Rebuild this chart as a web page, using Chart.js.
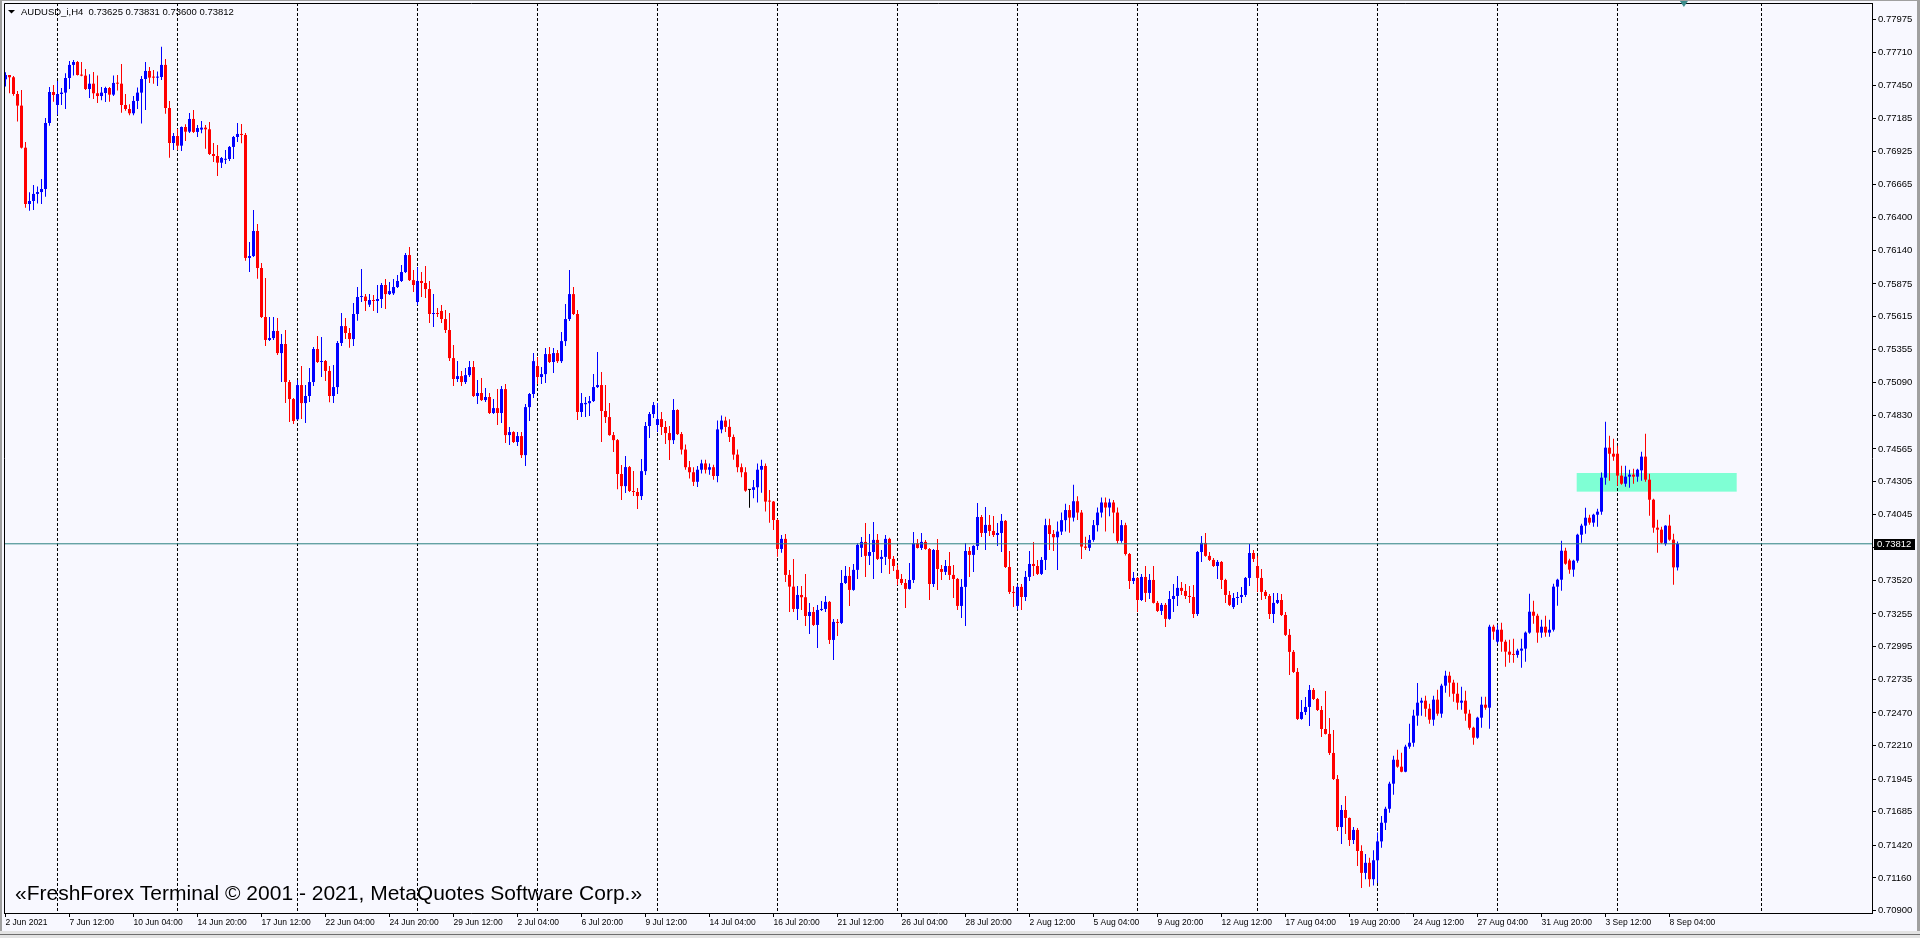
<!DOCTYPE html>
<html>
<head>
<meta charset="utf-8">
<title>AUDUSD_i,H4</title>
<style>
  html, body { margin: 0; padding: 0; background: #f8f8ff; overflow: hidden; }
  canvas { display: block; }
</style>
<script src="https://cdn.jsdelivr.net/npm/chart.js@4.4.1/dist/chart.umd.min.js"></script>
</head>
<body>
<canvas id="chart" width="1920" height="938"></canvas>
<script>
// ---- Chart data (H4 bars, oldest first) ----

const SYMBOL = "AUDUSD_i,H4";

const opens = [
  0.77499,0.77533,0.77515,0.77382,0.77290,0.76956,0.76509,0.76533,0.76589,0.76604,
  0.76628,0.77152,0.77398,0.77295,0.77382,0.77393,0.77509,0.77613,0.77636,0.77533,
  0.77528,0.77422,0.77464,0.77388,0.77366,0.77390,0.77430,0.77377,0.77470,0.77464,
  0.77295,0.77263,0.77229,0.77327,0.77393,0.77501,0.77565,0.77520,0.77512,0.77517,
  0.77613,0.77271,0.76993,0.77049,0.76972,0.77120,0.77083,0.77184,0.77081,0.77100,
  0.77115,0.77102,0.76906,0.76890,0.76837,0.76860,0.76866,0.76962,0.77041,0.77065,
  0.77057,0.76081,0.76096,0.76295,0.76001,0.75612,0.75430,0.75445,0.75501,0.75326,
  0.75398,0.75096,0.74961,0.74800,0.75072,0.74929,0.74985,0.75096,0.75358,0.75255,
  0.75263,0.75184,0.74985,0.75056,0.75406,0.75540,0.75485,0.75437,0.75636,0.75771,
  0.75774,0.75710,0.75747,0.75739,0.75755,0.75866,0.75794,0.75800,0.75850,0.75898,
  0.75969,0.76104,0.75905,0.75731,0.75898,0.75882,0.75834,0.75636,0.75644,0.75660,
  0.75596,0.75509,0.75286,0.75120,0.75143,0.75096,0.75151,0.75215,0.74985,0.75009,
  0.74953,0.74977,0.74850,0.74889,0.74850,0.75040,0.74675,0.74699,0.74620,0.74667,
  0.74516,0.74897,0.75001,0.75223,0.75136,0.75159,0.75318,0.75255,0.75326,0.75262,
  0.75421,0.75596,0.75794,0.75636,0.74858,0.74920,0.74928,0.74945,0.75056,0.75072,
  0.74866,0.74818,0.74675,0.74635,0.74366,0.74270,0.74421,0.74231,0.74223,0.74191,
  0.74389,0.74747,0.74842,0.74755,0.74802,0.74739,0.74691,0.74635,0.74874,0.74683,
  0.74560,0.74420,0.74380,0.74304,0.74400,0.74450,0.74400,0.74420,0.74350,0.74720,
  0.74790,0.74740,0.74660,0.74520,0.74420,0.74380,0.74240,0.74240,0.74261,0.74400,
  0.74430,0.74152,0.74147,0.74001,0.73771,0.73851,0.73565,0.73472,0.73295,0.73406,
  0.73388,0.73239,0.73271,0.73168,0.73287,0.73295,0.73351,0.73049,0.73192,0.73184,
  0.73501,0.73557,0.73446,0.73605,0.73780,0.73827,0.73716,0.73747,0.73843,0.73692,
  0.73708,0.73851,0.73692,0.73605,0.73533,0.73501,0.73454,0.73525,0.73816,0.73779,
  0.73827,0.73771,0.73493,0.73763,0.73612,0.73589,0.73636,0.73565,0.73533,0.73319,
  0.73470,0.73755,0.73724,0.73795,0.74025,0.73898,0.73962,0.73914,0.73882,0.73898,
  0.73994,0.73628,0.73430,0.73319,0.73470,0.73390,0.73549,0.73652,0.73636,0.73573,
  0.73684,0.73960,0.73890,0.73864,0.73909,0.74000,0.74080,0.74020,0.74150,0.74060,
  0.73790,0.73780,0.73843,0.73960,0.74060,0.74140,0.74100,0.74140,0.74060,0.73835,
  0.73960,0.73731,0.73517,0.73541,0.73366,0.73549,0.73422,0.73525,0.73343,0.73279,
  0.73327,0.73216,0.73374,0.73398,0.73462,0.73438,0.73398,0.73390,0.73255,0.73747,
  0.73819,0.73716,0.73684,0.73636,0.73668,0.73525,0.73406,0.73310,0.73382,0.73390,
  0.73406,0.73541,0.73739,0.73636,0.73541,0.73430,0.73398,0.73255,0.73343,0.73366,
  0.73247,0.73089,0.72954,0.72795,0.72422,0.72477,0.72517,0.72652,0.72580,0.72493,
  0.72342,0.72303,0.72152,0.71945,0.71564,0.71699,0.71636,0.71461,0.71541,0.71374,
  0.71200,0.71280,0.71150,0.71300,0.71450,0.71598,0.71709,0.71908,0.72098,0.72043,
  0.72003,0.72202,0.72233,0.72448,0.72551,0.72567,0.72503,0.72416,0.72575,0.72464,
  0.72686,0.72765,0.72710,0.72622,0.72551,0.72567,0.72464,0.72352,0.72273,0.72432,
  0.72535,0.72511,0.73154,0.73035,0.73130,0.73035,0.72956,0.72935,0.72930,0.72964,
  0.72980,0.73107,0.73273,0.73241,0.73107,0.73154,0.73107,0.73130,0.73472,0.73527,
  0.73757,0.73680,0.73607,0.73678,0.73884,0.73956,0.74019,0.73980,0.74043,0.74067,
  0.74337,0.74575,0.74527,0.74527,0.74353,0.74289,0.74345,0.74361,0.74345,0.74395,
  0.74504,0.74321,0.74162,0.73940,0.73924,0.73810,0.73956,0.73845,0.73625
];

const highs = [
  0.77554,0.77533,0.77525,0.77406,0.77414,0.77001,0.76602,0.76660,0.76647,0.76708,
  0.77192,0.77438,0.77454,0.77486,0.77430,0.77546,0.77644,0.77652,0.77644,0.77636,
  0.77581,0.77538,0.77557,0.77528,0.77438,0.77440,0.77438,0.77528,0.77533,0.77620,
  0.77382,0.77300,0.77366,0.77433,0.77525,0.77636,0.77597,0.77573,0.77560,0.77758,
  0.77660,0.77327,0.77073,0.77104,0.77125,0.77142,0.77232,0.77255,0.77136,0.77168,
  0.77136,0.77160,0.76993,0.76978,0.76882,0.76938,0.76970,0.77049,0.77152,0.77144,
  0.77073,0.76208,0.76462,0.76350,0.76041,0.75922,0.75612,0.75612,0.75604,0.75477,
  0.75509,0.75112,0.74969,0.75112,0.75223,0.75072,0.75207,0.75374,0.75461,0.75453,
  0.75271,0.75223,0.75231,0.75422,0.75644,0.75604,0.75524,0.75723,0.75850,0.75993,
  0.75794,0.75794,0.75786,0.75866,0.75882,0.75913,0.75890,0.75913,0.75945,0.76025,
  0.76120,0.76167,0.75985,0.76009,0.75969,0.76017,0.75898,0.75794,0.75683,0.75707,
  0.75667,0.75644,0.75390,0.75262,0.75183,0.75207,0.75262,0.75262,0.75112,0.75128,
  0.75048,0.75009,0.74961,0.75040,0.75064,0.75080,0.74739,0.74705,0.74699,0.74699,
  0.74921,0.75009,0.75326,0.75294,0.75215,0.75366,0.75374,0.75366,0.75350,0.75493,
  0.75715,0.75985,0.75850,0.75667,0.75009,0.74977,0.74985,0.75159,0.75334,0.75175,
  0.75072,0.74929,0.74699,0.74643,0.74437,0.74508,0.74429,0.74389,0.74254,0.74485,
  0.74778,0.74858,0.74937,0.74929,0.74858,0.74786,0.74747,0.74961,0.74880,0.74700,
  0.74600,0.74470,0.74420,0.74430,0.74480,0.74480,0.74450,0.74440,0.74790,0.74830,
  0.74820,0.74800,0.74680,0.74560,0.74450,0.74420,0.74245,0.74319,0.74450,0.74480,
  0.74450,0.74240,0.74152,0.74010,0.73882,0.73890,0.73605,0.73692,0.73478,0.73478,
  0.73573,0.73343,0.73311,0.73327,0.73359,0.73398,0.73359,0.73216,0.73216,0.73605,
  0.73636,0.73628,0.73652,0.73816,0.73867,0.73978,0.73890,0.73986,0.73890,0.73763,
  0.73882,0.73860,0.73716,0.73644,0.73573,0.73533,0.73660,0.73906,0.73851,0.73898,
  0.73843,0.73779,0.73771,0.73851,0.73644,0.73684,0.73747,0.73644,0.73541,0.73533,
  0.73819,0.73787,0.73800,0.74136,0.74041,0.74105,0.74041,0.74033,0.73978,0.74049,
  0.74001,0.73755,0.73478,0.73490,0.73493,0.73597,0.73755,0.73827,0.73684,0.73708,
  0.74010,0.74010,0.73922,0.73990,0.74060,0.74130,0.74120,0.74280,0.74190,0.74080,
  0.73869,0.73882,0.74000,0.74100,0.74180,0.74180,0.74170,0.74160,0.74100,0.74000,
  0.73980,0.73739,0.73589,0.73549,0.73573,0.73636,0.73573,0.73636,0.73358,0.73343,
  0.73343,0.73438,0.73493,0.73557,0.73509,0.73493,0.73477,0.73485,0.73755,0.73874,
  0.73898,0.73747,0.73700,0.73684,0.73676,0.73535,0.73438,0.73422,0.73430,0.73470,
  0.73549,0.73811,0.73763,0.73716,0.73612,0.73446,0.73414,0.73422,0.73422,0.73414,
  0.73271,0.73136,0.72969,0.72827,0.72573,0.72596,0.72692,0.72668,0.72588,0.72525,
  0.72644,0.72430,0.72334,0.71977,0.71739,0.71810,0.71640,0.71564,0.71557,0.71420,
  0.71350,0.71320,0.71380,0.71520,0.71651,0.71725,0.71924,0.72130,0.72178,0.72154,
  0.72217,0.72384,0.72495,0.72707,0.72591,0.72606,0.72543,0.72606,0.72654,0.72702,
  0.72805,0.72797,0.72733,0.72710,0.72678,0.72646,0.72495,0.72360,0.72440,0.72598,
  0.72598,0.73170,0.73170,0.73170,0.73186,0.73051,0.73051,0.73059,0.72980,0.73059,
  0.73115,0.73416,0.73361,0.73257,0.73210,0.73241,0.73210,0.73495,0.73535,0.73837,
  0.73781,0.73694,0.73685,0.73892,0.73972,0.74099,0.74043,0.74051,0.74091,0.74377,
  0.74781,0.74670,0.74646,0.74591,0.74432,0.74432,0.74400,0.74408,0.74408,0.74543,
  0.74686,0.74369,0.74170,0.74003,0.73948,0.73960,0.74043,0.73892,0.73831
];

const lows = [
  0.77441,0.77388,0.77369,0.77163,0.76950,0.76480,0.76456,0.76462,0.76514,0.76509,
  0.76567,0.77131,0.77321,0.77218,0.77295,0.77263,0.77422,0.77528,0.77528,0.77523,
  0.77414,0.77351,0.77343,0.77311,0.77332,0.77319,0.77321,0.77366,0.77409,0.77234,
  0.77250,0.77213,0.77213,0.77263,0.77147,0.77255,0.77470,0.77464,0.77446,0.77493,
  0.77226,0.76877,0.76938,0.76938,0.76930,0.77009,0.77073,0.77073,0.77041,0.77070,
  0.76948,0.76898,0.76843,0.76731,0.76795,0.76827,0.76850,0.76866,0.77001,0.76991,
  0.76059,0.75969,0.76088,0.75916,0.75604,0.75382,0.75422,0.75430,0.75311,0.75096,
  0.74929,0.74779,0.74763,0.74795,0.74802,0.74771,0.74937,0.75064,0.75247,0.75136,
  0.75104,0.74935,0.74929,0.75001,0.75382,0.75437,0.75368,0.75382,0.75583,0.75731,
  0.75659,0.75691,0.75659,0.75644,0.75683,0.75675,0.75786,0.75786,0.75842,0.75890,
  0.75961,0.75898,0.75810,0.75707,0.75771,0.75763,0.75564,0.75532,0.75612,0.75564,
  0.75485,0.75262,0.75064,0.75096,0.75064,0.75080,0.75136,0.74977,0.74921,0.74945,
  0.74937,0.74842,0.74842,0.74755,0.74770,0.74612,0.74596,0.74612,0.74588,0.74493,
  0.74429,0.74786,0.74969,0.75080,0.75080,0.75088,0.75247,0.75167,0.75247,0.75247,
  0.75382,0.75580,0.75628,0.74794,0.74818,0.74818,0.74826,0.74937,0.75048,0.74620,
  0.74770,0.74670,0.74540,0.74246,0.74159,0.74215,0.74223,0.74191,0.74088,0.74159,
  0.74358,0.74651,0.74810,0.74699,0.74675,0.74604,0.74477,0.74604,0.74675,0.74520,
  0.74400,0.74330,0.74270,0.74263,0.74370,0.74370,0.74360,0.74320,0.74300,0.74690,
  0.74700,0.74620,0.74480,0.74380,0.74340,0.74226,0.74099,0.74173,0.74139,0.74218,
  0.74068,0.73980,0.73922,0.73710,0.73742,0.73509,0.73271,0.73271,0.73208,0.73287,
  0.73160,0.73097,0.73160,0.72985,0.73279,0.73271,0.73017,0.72890,0.73081,0.73176,
  0.73493,0.73319,0.73440,0.73533,0.73708,0.73549,0.73644,0.73533,0.73684,0.73581,
  0.73644,0.73573,0.73597,0.73486,0.73486,0.73303,0.73450,0.73501,0.73775,0.73763,
  0.73765,0.73366,0.73470,0.73446,0.73525,0.73565,0.73525,0.73382,0.73287,0.73224,
  0.73160,0.73549,0.73589,0.73763,0.73867,0.73763,0.73874,0.73867,0.73795,0.73747,
  0.73620,0.73414,0.73311,0.73290,0.73287,0.73358,0.73517,0.73557,0.73565,0.73565,
  0.73604,0.73763,0.73755,0.73604,0.73882,0.73910,0.73900,0.73990,0.74000,0.73692,
  0.73763,0.73755,0.73829,0.73910,0.74020,0.73909,0.74030,0.73895,0.73815,0.73820,
  0.73720,0.73454,0.73493,0.73271,0.73358,0.73350,0.73374,0.73338,0.73271,0.73247,
  0.73152,0.73210,0.73271,0.73319,0.73406,0.73374,0.73343,0.73223,0.73239,0.73668,
  0.73710,0.73676,0.73628,0.73533,0.73454,0.73343,0.73319,0.73295,0.73327,0.73343,
  0.73390,0.73477,0.73668,0.73430,0.73366,0.73374,0.73216,0.73184,0.73335,0.73239,
  0.73081,0.72771,0.72787,0.72414,0.72415,0.72454,0.72366,0.72573,0.72485,0.72279,
  0.72298,0.72136,0.71938,0.71533,0.71429,0.71509,0.71414,0.71429,0.71255,0.71080,
  0.71150,0.71090,0.71100,0.71120,0.71400,0.71540,0.71678,0.71821,0.72035,0.71998,
  0.71998,0.72186,0.72202,0.72368,0.72448,0.72440,0.72384,0.72368,0.72448,0.72432,
  0.72630,0.72598,0.72559,0.72495,0.72495,0.72408,0.72337,0.72217,0.72265,0.72352,
  0.72495,0.72344,0.73051,0.73019,0.72956,0.72837,0.72868,0.72868,0.72908,0.72829,
  0.72876,0.73099,0.73178,0.73027,0.73067,0.73075,0.73075,0.73115,0.73321,0.73440,
  0.73646,0.73575,0.73551,0.73662,0.73821,0.73892,0.73964,0.73948,0.73948,0.74043,
  0.74281,0.74313,0.74472,0.74273,0.74281,0.74265,0.74257,0.74289,0.74305,0.74313,
  0.74305,0.74035,0.73900,0.73741,0.73813,0.73797,0.73837,0.73487,0.73600
];

const closes = [
  0.77533,0.77515,0.77382,0.77290,0.76956,0.76509,0.76533,0.76589,0.76604,0.76628,
  0.77152,0.77398,0.77374,0.77382,0.77393,0.77509,0.77613,0.77636,0.77533,0.77528,
  0.77422,0.77464,0.77388,0.77366,0.77393,0.77430,0.77377,0.77470,0.77464,0.77295,
  0.77263,0.77229,0.77327,0.77393,0.77501,0.77565,0.77512,0.77512,0.77517,0.77613,
  0.77271,0.76993,0.77049,0.76972,0.77120,0.77083,0.77184,0.77081,0.77112,0.77115,
  0.77102,0.76906,0.76890,0.76837,0.76874,0.76866,0.76962,0.77041,0.77065,0.77057,
  0.76081,0.76096,0.76295,0.76001,0.75612,0.75430,0.75445,0.75501,0.75326,0.75398,
  0.75096,0.74961,0.74787,0.75072,0.74929,0.74985,0.75096,0.75358,0.75255,0.75263,
  0.75184,0.74985,0.75056,0.75406,0.75540,0.75485,0.75437,0.75636,0.75771,0.75774,
  0.75739,0.75747,0.75739,0.75755,0.75866,0.75794,0.75818,0.75850,0.75898,0.75969,
  0.76104,0.75905,0.75866,0.75898,0.75882,0.75834,0.75636,0.75644,0.75636,0.75596,
  0.75509,0.75286,0.75120,0.75143,0.75096,0.75151,0.75215,0.74985,0.75009,0.74953,
  0.74977,0.74850,0.74889,0.74850,0.75040,0.74675,0.74699,0.74620,0.74667,0.74516,
  0.74897,0.75001,0.75262,0.75136,0.75159,0.75318,0.75255,0.75326,0.75262,0.75421,
  0.75596,0.75794,0.75636,0.74858,0.74929,0.74930,0.74945,0.75056,0.75072,0.74866,
  0.74818,0.74675,0.74635,0.74366,0.74270,0.74421,0.74231,0.74223,0.74191,0.74389,
  0.74747,0.74842,0.74913,0.74802,0.74739,0.74691,0.74635,0.74874,0.74683,0.74560,
  0.74420,0.74380,0.74304,0.74400,0.74450,0.74400,0.74420,0.74350,0.74720,0.74790,
  0.74740,0.74660,0.74520,0.74420,0.74380,0.74234,0.74240,0.74261,0.74400,0.74430,
  0.74147,0.74147,0.74001,0.73771,0.73851,0.73565,0.73472,0.73295,0.73406,0.73388,
  0.73239,0.73271,0.73168,0.73287,0.73295,0.73351,0.73049,0.73192,0.73184,0.73501,
  0.73557,0.73446,0.73605,0.73803,0.73827,0.73716,0.73747,0.73843,0.73692,0.73708,
  0.73851,0.73692,0.73636,0.73533,0.73501,0.73454,0.73525,0.73816,0.73779,0.73827,
  0.73771,0.73493,0.73763,0.73612,0.73589,0.73636,0.73565,0.73533,0.73319,0.73470,
  0.73755,0.73724,0.73795,0.74025,0.73898,0.73962,0.73914,0.73882,0.73898,0.73994,
  0.73628,0.73430,0.73422,0.73470,0.73390,0.73549,0.73652,0.73636,0.73573,0.73684,
  0.73960,0.73890,0.73864,0.73909,0.74000,0.74080,0.74020,0.74150,0.74060,0.73790,
  0.73780,0.73843,0.73960,0.74060,0.74140,0.74100,0.74140,0.74060,0.73835,0.73960,
  0.73731,0.73517,0.73541,0.73366,0.73549,0.73422,0.73525,0.73343,0.73279,0.73327,
  0.73216,0.73374,0.73398,0.73462,0.73438,0.73398,0.73390,0.73255,0.73747,0.73819,
  0.73716,0.73684,0.73636,0.73668,0.73525,0.73406,0.73327,0.73382,0.73390,0.73406,
  0.73541,0.73739,0.73692,0.73541,0.73430,0.73398,0.73255,0.73343,0.73366,0.73247,
  0.73089,0.72954,0.72795,0.72422,0.72477,0.72517,0.72652,0.72580,0.72493,0.72342,
  0.72303,0.72152,0.71945,0.71564,0.71699,0.71636,0.71461,0.71541,0.71374,0.71200,
  0.71280,0.71150,0.71300,0.71450,0.71598,0.71709,0.71908,0.72098,0.72043,0.72003,
  0.72202,0.72233,0.72448,0.72551,0.72567,0.72503,0.72416,0.72575,0.72464,0.72686,
  0.72765,0.72710,0.72622,0.72551,0.72567,0.72464,0.72352,0.72273,0.72432,0.72535,
  0.72511,0.73154,0.73115,0.73130,0.73035,0.72956,0.72932,0.72930,0.72964,0.72980,
  0.73107,0.73273,0.73241,0.73107,0.73154,0.73107,0.73130,0.73472,0.73527,0.73757,
  0.73654,0.73607,0.73678,0.73884,0.73956,0.74019,0.73980,0.74043,0.74067,0.74337,
  0.74575,0.74527,0.74504,0.74353,0.74289,0.74345,0.74361,0.74345,0.74400,0.74504,
  0.74321,0.74162,0.73940,0.73924,0.73821,0.73956,0.73845,0.73625,0.73812
];

// time axis: a label every 16 bars
const timeLabelBars = [0,16,32,48,64,80,96,112,128,144,160,176,192,208,224,240,256,272,288,304,320,336,352,368,384,400,416];
const timeLabels = [
  "2 Jun 2021","7 Jun 12:00","10 Jun 04:00","14 Jun 20:00","17 Jun 12:00","22 Jun 04:00",
  "24 Jun 20:00","29 Jun 12:00","2 Jul 04:00","6 Jul 20:00","9 Jul 12:00","14 Jul 04:00",
  "16 Jul 20:00","21 Jul 12:00","26 Jul 04:00","28 Jul 20:00","2 Aug 12:00","5 Aug 04:00",
  "9 Aug 20:00","12 Aug 12:00","17 Aug 04:00","19 Aug 20:00","24 Aug 12:00","27 Aug 04:00",
  "31 Aug 20:00","3 Sep 12:00","8 Sep 04:00"
];

// weekly period separators (bar index)
const separatorBars = [13,43,73,103,133,163,193,223,253,283,313,343,373,403,439];

// price scale labels
const priceTicks = [
  0.77975,0.77710,0.77450,0.77185,0.76925,0.76665,0.76400,0.76140,0.75875,0.75615,
  0.75355,0.75090,0.74830,0.74565,0.74305,0.74045,0.73780,0.73520,0.73255,0.72995,
  0.72735,0.72470,0.72210,0.71945,0.71685,0.71420,0.71160,0.70900
];

// rectangle object (bar range, price range)
const zoneBars = [392.8, 432.8];
const zonePrices = [0.74226, 0.74374];

const X_MIN = -0.375, X_MAX = 466.625;
const Y_MIN = 0.708817, Y_MAX = 0.781044;
const SHIFT_MARK_BAR = 419.6;

// ---- Styling ----

const BG = "#f8f8ff";
const BULL = "#0000ff";
const BEAR = "#ff0000";
const DOJI = "#000000";
const BID_LINE = "#2a8080";

function hasFont(name) {
    const c = document.createElement("canvas").getContext("2d");
    c.font = "20px monospace";
    const a = c.measureText("0.77975 AUDUSD Jun").width;
    c.font = `20px "${name}", monospace`;
    const b = c.measureText("0.77975 AUDUSD Jun").width;
    return a !== b;
}

const NARROW = hasFont("Liberation Sans Narrow");
const AXIS_FAMILY = NARROW ? '"Liberation Sans Narrow", "Liberation Sans", sans-serif' : '"Liberation Sans", Arial, sans-serif';
const Y_SIZE = NARROW ? 11 : 9.5;
const X_SIZE = NARROW ? 10 : 8.5;

const bars = closes.map((_, i) => i);
const candleColors = bars.map((i) => closes[i] > opens[i] ? BULL : closes[i] < opens[i] ? BEAR : DOJI);
const lastClose = closes[closes.length - 1];

// ---- Overlay: frame, zone, header, bid label ----

const overlay = {
    id: "mt4Overlay",
    beforeDraw(chart) {
        const { ctx, width, height } = chart;
        ctx.save();
        ctx.fillStyle = BG;
        ctx.fillRect(0, 0, width, height);
        ctx.restore();
    },
    beforeDatasetsDraw(chart) {
        const { ctx, chartArea: a, scales: { x, y } } = chart;
        ctx.save();
        ctx.beginPath();
        ctx.rect(a.left, a.top, a.right - a.left, a.bottom - a.top);
        ctx.clip();
        const x0 = x.getPixelForValue(zoneBars[0]);
        const x1 = x.getPixelForValue(zoneBars[1]);
        const y0 = y.getPixelForValue(zonePrices[1]);
        const y1 = y.getPixelForValue(zonePrices[0]);
        ctx.fillStyle = "#7fffd4";
        ctx.fillRect(x0, y0, x1 - x0, y1 - y0);
        ctx.restore();
    },
    afterDraw(chart) {
        const { ctx, chartArea: a, scales: { x, y }, width, height } = chart;
        ctx.save();

        // plot border (left / top)
        ctx.strokeStyle = "#000";
        ctx.lineWidth = 1;
        ctx.beginPath();
        ctx.moveTo(a.left + 0.5, a.bottom);
        ctx.lineTo(a.left + 0.5, a.top + 0.5);
        ctx.lineTo(a.right + 1, a.top + 0.5);
        ctx.stroke();

        // window frame
        ctx.fillStyle = "#a0a0a0";
        ctx.fillRect(0, 0, 2, height);
        ctx.fillRect(width - 3, 0, 3, height);
        ctx.fillRect(0, 0, width, 1);
        ctx.fillStyle = "#e3e3e3";
        ctx.fillRect(0, 931, width, height - 931);
        ctx.fillStyle = "#6e6e6e";
        ctx.fillRect(0, 934, width, 1);

        // shift marker
        const sx = x.getPixelForValue(SHIFT_MARK_BAR);
        ctx.fillStyle = "#3c8c8c";
        ctx.beginPath();
        ctx.moveTo(sx - 4, a.top - 2);
        ctx.lineTo(sx + 4, a.top - 2);
        ctx.lineTo(sx, a.top + 4);
        ctx.closePath();
        ctx.fill();

        // header
        ctx.fillStyle = "#000";
        ctx.beginPath();
        ctx.moveTo(8, 10);
        ctx.lineTo(15, 10);
        ctx.lineTo(11.5, 13.5);
        ctx.closePath();
        ctx.fill();
        const last = closes.length - 1;
        const header = `${SYMBOL}  ${opens[last].toFixed(5)} ${highs[last].toFixed(5)} ${lows[last].toFixed(5)} ${closes[last].toFixed(5)}`;
        ctx.font = `${NARROW ? 11 : 9.5}px ${AXIS_FAMILY}`;
        ctx.textBaseline = "alphabetic";
        ctx.textAlign = "left";
        ctx.fillText(header, 21, 15);

        // copyright
        ctx.font = '21px "Liberation Sans", Arial, sans-serif';
        ctx.fillText("\u00abFreshForex Terminal \u00a9 2001 - 2021, MetaQuotes Software Corp.\u00bb", 15, 900);

        // bid label
        const by = Math.round(y.getPixelForValue(lastClose));
        ctx.fillStyle = "#000";
        ctx.fillRect(a.right + 2, by - 5, 41, 11);
        ctx.fillStyle = "#fff";
        ctx.font = `${Y_SIZE}px ${AXIS_FAMILY}`;
        ctx.textBaseline = "middle";
        ctx.fillText(lastClose.toFixed(5), a.right + 5, by + 0.5);

        ctx.restore();
    },
};

// ---- Chart ----

const ctx = document.getElementById("chart").getContext("2d");
new Chart(ctx, {
    type: "bar",
    data: {
        datasets: [
            {
                type: "line",
                label: "bid",
                data: [{ x: X_MIN, y: lastClose }, { x: X_MAX, y: lastClose }],
                borderColor: BID_LINE,
                borderWidth: 1,
                pointRadius: 0,
                fill: false,
                order: -1,
            },
            {
                label: "bodies",
                data: bars.map((i) => ({ x: i, y: [opens[i], closes[i]] })),
                backgroundColor: candleColors,
                borderWidth: 0,
                barThickness: 3,
                minBarLength: 1,
                grouped: false,
                inflateAmount: 0,
                order: 0,
            },
            {
                label: "wicks",
                data: bars.map((i) => ({ x: i, y: [lows[i], highs[i]] })),
                backgroundColor: candleColors,
                borderWidth: 0,
                barThickness: 1,
                grouped: false,
                inflateAmount: 0,
                order: 1,
            },
            {
                type: "line",
                label: "separators",
                data: separatorBars.flatMap((b) => [{ x: b, y: Y_MAX }, { x: b, y: Y_MIN }, { x: b, y: null }]),
                borderColor: "#000",
                borderWidth: 1,
                borderDash: [3, 2],
                pointRadius: 0,
                spanGaps: false,
                fill: false,
                order: 10,
            },
        ],
    },
    options: {
        responsive: false,
        animation: false,
        events: [],
        layout: { padding: { left: 4, top: 3, right: 0, bottom: 0 } },
        plugins: {
            legend: { display: false },
            tooltip: { enabled: false },
        },
        scales: {
            x: {
                type: "linear",
                position: "bottom",
                offset: false,
                min: X_MIN,
                max: X_MAX,
                grid: { offset: false, drawOnChartArea: false, drawTicks: true, tickLength: 4, color: "#000" },
                border: { display: true, color: "#000", width: 1 },
                ticks: {
                    align: "start",
                    autoSkip: false,
                    maxRotation: 0,
                    padding: 1,
                    color: "#000",
                    font: { family: AXIS_FAMILY, size: X_SIZE },
                    callback: (v, i) => timeLabels[i],
                },
                afterBuildTicks: (s) => { s.ticks = timeLabelBars.map((v) => ({ value: v })); },
                afterFit: (s) => { s.height = 25; s.paddingLeft = 0; s.paddingRight = 0; },
            },
            y: {
                type: "linear",
                position: "right",
                min: Y_MIN,
                max: Y_MAX,
                grid: { drawOnChartArea: false, drawTicks: true, tickLength: 4, color: "#000" },
                border: { display: true, color: "#000", width: 1 },
                ticks: {
                    autoSkip: false,
                    padding: 2,
                    color: "#000",
                    font: { family: AXIS_FAMILY, size: Y_SIZE },
                    callback: (v) => Number(v).toFixed(5),
                },
                afterBuildTicks: (s) => { s.ticks = priceTicks.map((v) => ({ value: v })); },
                afterFit: (s) => { s.width = 48; s.paddingTop = 0; s.paddingBottom = 0; },
            },
        },
    },
    plugins: [overlay],
});
</script>
</body>
</html>
